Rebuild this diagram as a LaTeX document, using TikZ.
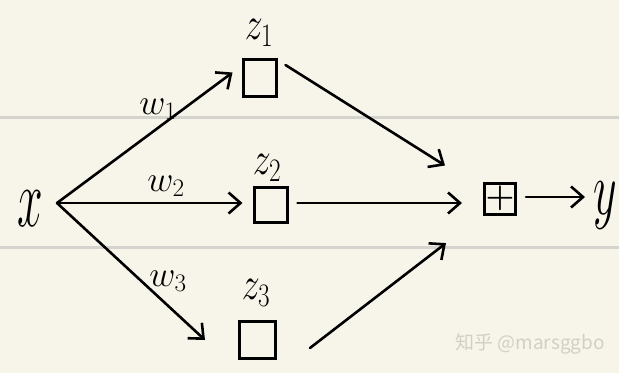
\RequirePackage{fix-cm}
\documentclass[tikz,border=0pt]{standalone}
\usepackage{fontspec}
\usepackage{tikz}
\usetikzlibrary{arrows.meta,calc}
\newfontfamily\cjk{Noto Sans CJK SC}
\definecolor{Paper}{HTML}{F7F5EA}
\definecolor{Rule}{HTML}{D4D3CD}
\definecolor{Mark}{HTML}{D2D0C6}
\newcommand{\hand}[2][1.4]{\scalebox{1}[#1]{$#2$}}

\begin{document}
\begin{tikzpicture}[x=1pt,y=-1pt,
      conn/.style={-{Straight Barb[length=12pt,width=21pt]},line width=2.6pt,
                   line cap=round,line join=round},
      unit/.style={draw,line width=3pt,minimum width=33pt,minimum height=35pt,
                   inner sep=0pt},
      sym/.style={inner sep=0pt,font=\fontsize{36}{36}\selectfont}]
    \fill[Paper] (0,0) rectangle (619,373);
    \useasboundingbox (0,0) rectangle (619,373);
    \draw[Rule,line width=3pt] (0,117) -- (619,117);
    \draw[Rule,line width=3pt] (0,247) -- (619,247);
    % inputs, hidden units, sum
    \node[sym,font=\fontsize{46}{46}\selectfont] (x) at (30,209) {\hand[1.8]{x}};
    \node[unit,minimum height=37pt] (z1) at (259.5,77.5) {};
    \node[unit] (z2) at (270.5,204.5) {};
    \node[unit,minimum width=36pt,minimum height=37pt] (z3) at (257.5,340) {};
    \node[unit,minimum width=31pt,minimum height=31pt,
          font=\fontsize{33}{33}\selectfont\boldmath] (plus) at (500,198.5) {$+$};
    \node[sym,font=\fontsize{46}{46}\selectfont] (y) at (605,206) {\hand[1.65]{y}};
    % labels
    \node[sym] (lz1) at (259,33) {\hand[1.3]{z_1}};
    \node[sym] (lz2) at (267,168) {\hand[1.3]{z_2}};
    \node[sym] (lz3) at (256,293) {\hand[1.3]{z_3}};
    \node[sym] (lw1) at (158,109) {$w_1$};
    \node[sym] (lw2) at (166,186) {$w_2$};
    \node[sym] (lw3) at (168,281) {$w_3$};
    % connectors
    \draw[conn] ([shift={(14,-6)}]x.east) -- ([shift={(-9,-5)}]z1.west);
    \draw[conn] ([shift={(14,-6)}]x.east) -- ([shift={(-10,-1.5)}]z2.west);
    \draw[conn] ([shift={(14,-6)}]x.east) -- ([xshift=-33pt]z3.west);
    \draw[conn] ([shift={(8,-12.5)}]z1.east) -- ([shift={(-38,-16)}]plus.north west);
    \draw[conn] ([shift={(9,-1.5)}]z2.east) -- ([shift={(-21,4.5)}]plus.west);
    \draw[conn] ([shift={(33,8)}]z3.east) -- ([shift={(-37,27.6)}]plus.south west);
    \draw[conn] ([shift={(9,-1.5)}]plus.east) -- ([shift={(-8,-9)}]y.west);
    \node[font=\cjk\fontsize{19}{19}\selectfont,text=Mark] (mark) at (530,344)
      {知乎 @marsggbo};
  \end{tikzpicture}
\end{document}
